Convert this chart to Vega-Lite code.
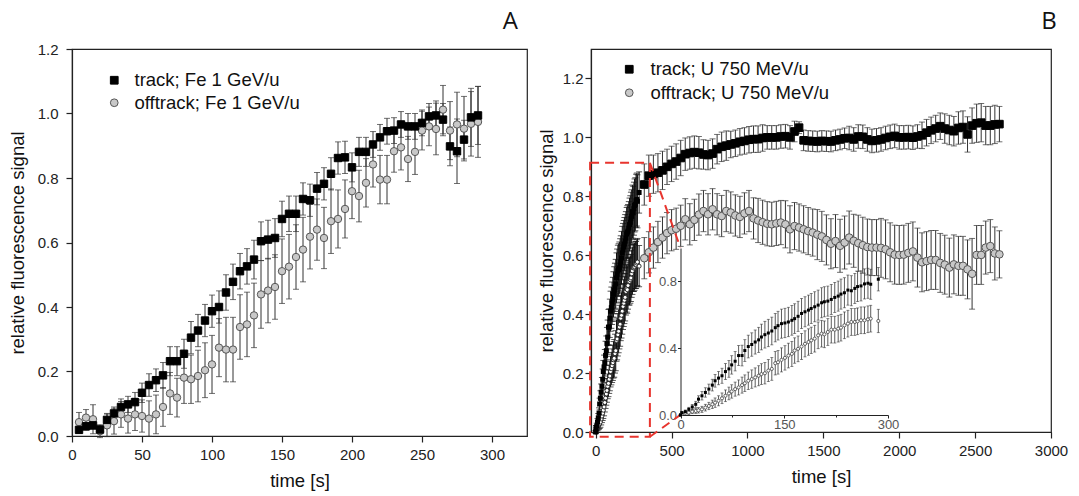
{
"$schema":"https://vega.github.io/schema/vega-lite/v6.json",
"background":"white",
"padding":{"left":7,"top":9,"right":0,"bottom":0},
"bounds":"flush",
"spacing":64,
"datasets":{
"A":[
{"s":"track","t":5,"v":0.019,"e":0.01},{"s":"track","t":10,"v":0.03,"e":0.012},{"s":"track","t":15,"v":0.033,"e":0.012},{"s":"track","t":20,"v":0.02,"e":0.012},{"s":"track","t":25,"v":0.05,"e":0.02},{"s":"track","t":30,"v":0.07,"e":0.02},{"s":"track","t":35,"v":0.09,"e":0.025},{"s":"track","t":40,"v":0.098,"e":0.025},{"s":"track","t":45,"v":0.105,"e":0.03},{"s":"track","t":50,"v":0.134,"e":0.03},{"s":"track","t":55,"v":0.158,"e":0.035},{"s":"track","t":60,"v":0.173,"e":0.035},{"s":"track","t":65,"v":0.188,"e":0.04},{"s":"track","t":70,"v":0.232,"e":0.045},{"s":"track","t":75,"v":0.232,"e":0.045},{"s":"track","t":80,"v":0.255,"e":0.045},{"s":"track","t":85,"v":0.305,"e":0.05},{"s":"track","t":90,"v":0.327,"e":0.05},{"s":"track","t":95,"v":0.358,"e":0.05},{"s":"track","t":100,"v":0.387,"e":0.05},{"s":"track","t":105,"v":0.4,"e":0.05},{"s":"track","t":110,"v":0.445,"e":0.055},{"s":"track","t":115,"v":0.478,"e":0.055},{"s":"track","t":120,"v":0.511,"e":0.055},{"s":"track","t":125,"v":0.526,"e":0.055},{"s":"track","t":130,"v":0.547,"e":0.06},{"s":"track","t":135,"v":0.604,"e":0.06},{"s":"track","t":140,"v":0.609,"e":0.06},{"s":"track","t":145,"v":0.614,"e":0.06},{"s":"track","t":150,"v":0.673,"e":0.055},{"s":"track","t":155,"v":0.689,"e":0.055},{"s":"track","t":160,"v":0.689,"e":0.055},{"s":"track","t":165,"v":0.735,"e":0.05},{"s":"track","t":170,"v":0.731,"e":0.05},{"s":"track","t":175,"v":0.767,"e":0.05},{"s":"track","t":180,"v":0.782,"e":0.05},{"s":"track","t":185,"v":0.813,"e":0.05},{"s":"track","t":190,"v":0.862,"e":0.05},{"s":"track","t":195,"v":0.864,"e":0.05},{"s":"track","t":200,"v":0.833,"e":0.045},{"s":"track","t":205,"v":0.881,"e":0.045},{"s":"track","t":210,"v":0.881,"e":0.045},{"s":"track","t":215,"v":0.904,"e":0.04},{"s":"track","t":220,"v":0.926,"e":0.04},{"s":"track","t":225,"v":0.945,"e":0.04},{"s":"track","t":230,"v":0.947,"e":0.04},{"s":"track","t":235,"v":0.966,"e":0.04},{"s":"track","t":240,"v":0.96,"e":0.04},{"s":"track","t":245,"v":0.96,"e":0.04},{"s":"track","t":250,"v":0.971,"e":0.04},{"s":"track","t":255,"v":0.991,"e":0.04},{"s":"track","t":260,"v":0.994,"e":0.045},{"s":"track","t":265,"v":0.981,"e":0.05},{"s":"track","t":270,"v":0.898,"e":0.06},{"s":"track","t":275,"v":0.883,"e":0.1},{"s":"track","t":280,"v":0.919,"e":0.06},{"s":"track","t":285,"v":0.988,"e":0.09},{"s":"track","t":290,"v":0.994,"e":0.09},
{"s":"offtrack","t":5,"v":0.043,"e":0.03},{"s":"offtrack","t":10,"v":0.057,"e":0.025},{"s":"offtrack","t":15,"v":0.052,"e":0.045},{"s":"offtrack","t":20,"v":0.015,"e":0.02},{"s":"offtrack","t":25,"v":0.033,"e":0.035},{"s":"offtrack","t":30,"v":0.046,"e":0.04},{"s":"offtrack","t":35,"v":0.067,"e":0.04},{"s":"offtrack","t":40,"v":0.054,"e":0.045},{"s":"offtrack","t":45,"v":0.067,"e":0.05},{"s":"offtrack","t":50,"v":0.062,"e":0.05},{"s":"offtrack","t":55,"v":0.054,"e":0.055},{"s":"offtrack","t":60,"v":0.067,"e":0.06},{"s":"offtrack","t":65,"v":0.09,"e":0.06},{"s":"offtrack","t":70,"v":0.132,"e":0.065},{"s":"offtrack","t":75,"v":0.119,"e":0.06},{"s":"offtrack","t":80,"v":0.181,"e":0.08},{"s":"offtrack","t":85,"v":0.176,"e":0.075},{"s":"offtrack","t":90,"v":0.186,"e":0.08},{"s":"offtrack","t":95,"v":0.204,"e":0.085},{"s":"offtrack","t":100,"v":0.222,"e":0.09},{"s":"offtrack","t":105,"v":0.274,"e":0.09},{"s":"offtrack","t":110,"v":0.268,"e":0.1},{"s":"offtrack","t":115,"v":0.268,"e":0.1},{"s":"offtrack","t":120,"v":0.338,"e":0.1},{"s":"offtrack","t":125,"v":0.346,"e":0.1},{"s":"offtrack","t":130,"v":0.374,"e":0.1},{"s":"offtrack","t":135,"v":0.439,"e":0.105},{"s":"offtrack","t":140,"v":0.451,"e":0.1},{"s":"offtrack","t":145,"v":0.462,"e":0.1},{"s":"offtrack","t":150,"v":0.511,"e":0.1},{"s":"offtrack","t":155,"v":0.525,"e":0.1},{"s":"offtrack","t":160,"v":0.555,"e":0.1},{"s":"offtrack","t":165,"v":0.578,"e":0.1},{"s":"offtrack","t":170,"v":0.618,"e":0.1},{"s":"offtrack","t":175,"v":0.64,"e":0.095},{"s":"offtrack","t":180,"v":0.614,"e":0.095},{"s":"offtrack","t":185,"v":0.666,"e":0.1},{"s":"offtrack","t":190,"v":0.673,"e":0.09},{"s":"offtrack","t":195,"v":0.704,"e":0.09},{"s":"offtrack","t":200,"v":0.759,"e":0.085},{"s":"offtrack","t":205,"v":0.744,"e":0.08},{"s":"offtrack","t":210,"v":0.785,"e":0.075},{"s":"offtrack","t":215,"v":0.842,"e":0.07},{"s":"offtrack","t":220,"v":0.795,"e":0.075},{"s":"offtrack","t":225,"v":0.795,"e":0.075},{"s":"offtrack","t":230,"v":0.883,"e":0.065},{"s":"offtrack","t":235,"v":0.895,"e":0.07},{"s":"offtrack","t":240,"v":0.859,"e":0.07},{"s":"offtrack","t":245,"v":0.881,"e":0.07},{"s":"offtrack","t":250,"v":0.947,"e":0.06},{"s":"offtrack","t":255,"v":0.96,"e":0.06},{"s":"offtrack","t":260,"v":0.952,"e":0.08},{"s":"offtrack","t":265,"v":1.012,"e":0.075},{"s":"offtrack","t":270,"v":0.947,"e":0.09},{"s":"offtrack","t":275,"v":0.966,"e":0.1},{"s":"offtrack","t":280,"v":0.953,"e":0.1},{"s":"offtrack","t":285,"v":0.968,"e":0.1},{"s":"offtrack","t":290,"v":0.974,"e":0.11}
],
"B":[
{"s":"track","t":0,"v":0.0,"e":0.005},{"s":"track","t":2,"v":0.014,"e":0.008},{"s":"track","t":7,"v":0.02,"e":0.01},{"s":"track","t":12,"v":0.034,"e":0.012},{"s":"track","t":17,"v":0.048,"e":0.015},{"s":"track","t":22,"v":0.064,"e":0.018},{"s":"track","t":26,"v":0.095,"e":0.02},{"s":"track","t":31,"v":0.115,"e":0.025},{"s":"track","t":36,"v":0.135,"e":0.028},{"s":"track","t":41,"v":0.155,"e":0.03},{"s":"track","t":46,"v":0.179,"e":0.035},{"s":"track","t":50,"v":0.205,"e":0.038},{"s":"track","t":55,"v":0.221,"e":0.04},{"s":"track","t":60,"v":0.235,"e":0.045},{"s":"track","t":65,"v":0.26,"e":0.048},{"s":"track","t":70,"v":0.276,"e":0.05},{"s":"track","t":74,"v":0.3,"e":0.055},{"s":"track","t":79,"v":0.322,"e":0.058},{"s":"track","t":84,"v":0.356,"e":0.06},{"s":"track","t":89,"v":0.356,"e":0.062},{"s":"track","t":93,"v":0.386,"e":0.065},{"s":"track","t":98,"v":0.41,"e":0.068},{"s":"track","t":103,"v":0.422,"e":0.07},{"s":"track","t":108,"v":0.437,"e":0.072},{"s":"track","t":113,"v":0.45,"e":0.075},{"s":"track","t":117,"v":0.467,"e":0.077},{"s":"track","t":122,"v":0.481,"e":0.08},{"s":"track","t":127,"v":0.491,"e":0.082},{"s":"track","t":132,"v":0.503,"e":0.083},{"s":"track","t":137,"v":0.523,"e":0.085},{"s":"track","t":141,"v":0.535,"e":0.086},{"s":"track","t":146,"v":0.547,"e":0.087},{"s":"track","t":151,"v":0.551,"e":0.088},{"s":"track","t":156,"v":0.557,"e":0.088},{"s":"track","t":161,"v":0.567,"e":0.089},{"s":"track","t":165,"v":0.577,"e":0.089},{"s":"track","t":170,"v":0.591,"e":0.09},{"s":"track","t":175,"v":0.608,"e":0.09},{"s":"track","t":180,"v":0.618,"e":0.09},{"s":"track","t":185,"v":0.628,"e":0.09},{"s":"track","t":189,"v":0.638,"e":0.09},{"s":"track","t":194,"v":0.648,"e":0.09},{"s":"track","t":199,"v":0.658,"e":0.09},{"s":"track","t":204,"v":0.672,"e":0.09},{"s":"track","t":208,"v":0.678,"e":0.09},{"s":"track","t":213,"v":0.682,"e":0.09},{"s":"track","t":218,"v":0.692,"e":0.09},{"s":"track","t":223,"v":0.704,"e":0.09},{"s":"track","t":228,"v":0.712,"e":0.09},{"s":"track","t":232,"v":0.724,"e":0.09},{"s":"track","t":237,"v":0.732,"e":0.09},{"s":"track","t":242,"v":0.748,"e":0.09},{"s":"track","t":247,"v":0.744,"e":0.09},{"s":"track","t":252,"v":0.758,"e":0.09},{"s":"track","t":256,"v":0.769,"e":0.09},{"s":"track","t":261,"v":0.773,"e":0.09},{"s":"track","t":266,"v":0.785,"e":0.09},{"s":"track","t":271,"v":0.789,"e":0.09},{"s":"track","t":275,"v":0.783,"e":0.09},{"s":"track","t":286,"v":0.813,"e":0.07},
{"s":"track","t":320,"v":0.84,"e":0.07},{"s":"track","t":350,"v":0.87,"e":0.07},{"s":"track","t":380,"v":0.875,"e":0.065},{"s":"track","t":410,"v":0.88,"e":0.065},{"s":"track","t":440,"v":0.888,"e":0.065},{"s":"track","t":470,"v":0.9,"e":0.06},{"s":"track","t":500,"v":0.91,"e":0.06},{"s":"track","t":530,"v":0.918,"e":0.06},{"s":"track","t":560,"v":0.93,"e":0.06},{"s":"track","t":590,"v":0.943,"e":0.055},{"s":"track","t":620,"v":0.947,"e":0.055},{"s":"track","t":650,"v":0.95,"e":0.055},{"s":"track","t":680,"v":0.948,"e":0.055},{"s":"track","t":710,"v":0.942,"e":0.05},{"s":"track","t":740,"v":0.94,"e":0.05},{"s":"track","t":770,"v":0.945,"e":0.05},{"s":"track","t":800,"v":0.96,"e":0.05},{"s":"track","t":830,"v":0.968,"e":0.05},{"s":"track","t":860,"v":0.972,"e":0.05},{"s":"track","t":890,"v":0.976,"e":0.045},{"s":"track","t":920,"v":0.98,"e":0.045},{"s":"track","t":950,"v":0.985,"e":0.045},{"s":"track","t":980,"v":0.988,"e":0.045},{"s":"track","t":1010,"v":0.992,"e":0.045},{"s":"track","t":1040,"v":0.994,"e":0.045},{"s":"track","t":1070,"v":0.994,"e":0.045},{"s":"track","t":1100,"v":0.998,"e":0.045},{"s":"track","t":1130,"v":1.0,"e":0.04},{"s":"track","t":1160,"v":1.0,"e":0.04},{"s":"track","t":1190,"v":1.0,"e":0.04},{"s":"track","t":1220,"v":1.003,"e":0.04},{"s":"track","t":1250,"v":1.004,"e":0.04},{"s":"track","t":1280,"v":1.0,"e":0.04},{"s":"track","t":1310,"v":1.02,"e":0.035},{"s":"track","t":1340,"v":1.033,"e":0.02},{"s":"track","t":1370,"v":0.99,"e":0.035},{"s":"track","t":1400,"v":0.988,"e":0.035},{"s":"track","t":1430,"v":0.987,"e":0.035},{"s":"track","t":1460,"v":0.986,"e":0.035},{"s":"track","t":1490,"v":0.988,"e":0.035},{"s":"track","t":1520,"v":0.987,"e":0.035},{"s":"track","t":1550,"v":0.986,"e":0.035},{"s":"track","t":1580,"v":0.99,"e":0.035},{"s":"track","t":1610,"v":0.993,"e":0.035},{"s":"track","t":1640,"v":0.997,"e":0.035},{"s":"track","t":1670,"v":0.998,"e":0.04},{"s":"track","t":1700,"v":0.993,"e":0.04},{"s":"track","t":1730,"v":1.003,"e":0.04},{"s":"track","t":1760,"v":1.002,"e":0.04},{"s":"track","t":1790,"v":0.993,"e":0.04},{"s":"track","t":1820,"v":0.988,"e":0.04},{"s":"track","t":1850,"v":0.99,"e":0.04},{"s":"track","t":1880,"v":0.993,"e":0.04},{"s":"track","t":1910,"v":0.998,"e":0.04},{"s":"track","t":1940,"v":1.002,"e":0.04},{"s":"track","t":1970,"v":1.005,"e":0.04},{"s":"track","t":2000,"v":1.0,"e":0.04},{"s":"track","t":2030,"v":1.0,"e":0.04},{"s":"track","t":2060,"v":1.001,"e":0.04},{"s":"track","t":2090,"v":0.999,"e":0.04},{"s":"track","t":2120,"v":1.003,"e":0.04},{"s":"track","t":2150,"v":1.007,"e":0.045},{"s":"track","t":2180,"v":1.016,"e":0.045},{"s":"track","t":2210,"v":1.024,"e":0.045},{"s":"track","t":2240,"v":1.03,"e":0.045},{"s":"track","t":2270,"v":1.038,"e":0.045},{"s":"track","t":2300,"v":1.03,"e":0.05},{"s":"track","t":2330,"v":1.025,"e":0.05},{"s":"track","t":2360,"v":1.021,"e":0.05},{"s":"track","t":2390,"v":1.032,"e":0.055},{"s":"track","t":2420,"v":1.035,"e":0.055},{"s":"track","t":2450,"v":1.01,"e":0.06},{"s":"track","t":2480,"v":1.04,"e":0.06},{"s":"track","t":2510,"v":1.048,"e":0.065},{"s":"track","t":2540,"v":1.05,"e":0.065},{"s":"track","t":2570,"v":1.04,"e":0.065},{"s":"track","t":2600,"v":1.04,"e":0.065},{"s":"track","t":2630,"v":1.044,"e":0.065},{"s":"track","t":2660,"v":1.045,"e":0.06},
{"s":"offtrack","t":0,"v":0.0,"e":0.005},{"s":"offtrack","t":2,"v":0.008,"e":0.006},{"s":"offtrack","t":7,"v":0.014,"e":0.008},{"s":"offtrack","t":12,"v":0.014,"e":0.01},{"s":"offtrack","t":17,"v":0.02,"e":0.012},{"s":"offtrack","t":22,"v":0.024,"e":0.014},{"s":"offtrack","t":26,"v":0.028,"e":0.016},{"s":"offtrack","t":31,"v":0.034,"e":0.018},{"s":"offtrack","t":36,"v":0.044,"e":0.02},{"s":"offtrack","t":41,"v":0.054,"e":0.022},{"s":"offtrack","t":46,"v":0.064,"e":0.025},{"s":"offtrack","t":50,"v":0.074,"e":0.028},{"s":"offtrack","t":55,"v":0.085,"e":0.03},{"s":"offtrack","t":60,"v":0.1,"e":0.032},{"s":"offtrack","t":65,"v":0.115,"e":0.035},{"s":"offtrack","t":70,"v":0.129,"e":0.038},{"s":"offtrack","t":74,"v":0.141,"e":0.04},{"s":"offtrack","t":79,"v":0.155,"e":0.042},{"s":"offtrack","t":84,"v":0.165,"e":0.045},{"s":"offtrack","t":89,"v":0.179,"e":0.048},{"s":"offtrack","t":93,"v":0.19,"e":0.05},{"s":"offtrack","t":98,"v":0.205,"e":0.052},{"s":"offtrack","t":103,"v":0.215,"e":0.055},{"s":"offtrack","t":108,"v":0.225,"e":0.057},{"s":"offtrack","t":113,"v":0.235,"e":0.06},{"s":"offtrack","t":117,"v":0.245,"e":0.062},{"s":"offtrack","t":122,"v":0.25,"e":0.064},{"s":"offtrack","t":127,"v":0.266,"e":0.066},{"s":"offtrack","t":132,"v":0.276,"e":0.068},{"s":"offtrack","t":137,"v":0.31,"e":0.07},{"s":"offtrack","t":141,"v":0.316,"e":0.071},{"s":"offtrack","t":146,"v":0.33,"e":0.072},{"s":"offtrack","t":151,"v":0.342,"e":0.073},{"s":"offtrack","t":156,"v":0.356,"e":0.074},{"s":"offtrack","t":161,"v":0.366,"e":0.075},{"s":"offtrack","t":165,"v":0.386,"e":0.076},{"s":"offtrack","t":170,"v":0.396,"e":0.077},{"s":"offtrack","t":175,"v":0.41,"e":0.078},{"s":"offtrack","t":180,"v":0.426,"e":0.078},{"s":"offtrack","t":185,"v":0.437,"e":0.079},{"s":"offtrack","t":189,"v":0.447,"e":0.079},{"s":"offtrack","t":194,"v":0.457,"e":0.08},{"s":"offtrack","t":199,"v":0.477,"e":0.08},{"s":"offtrack","t":204,"v":0.487,"e":0.08},{"s":"offtrack","t":208,"v":0.483,"e":0.08},{"s":"offtrack","t":213,"v":0.497,"e":0.08},{"s":"offtrack","t":218,"v":0.511,"e":0.08},{"s":"offtrack","t":223,"v":0.511,"e":0.08},{"s":"offtrack","t":228,"v":0.517,"e":0.08},{"s":"offtrack","t":232,"v":0.523,"e":0.08},{"s":"offtrack","t":237,"v":0.537,"e":0.08},{"s":"offtrack","t":242,"v":0.547,"e":0.08},{"s":"offtrack","t":247,"v":0.557,"e":0.08},{"s":"offtrack","t":252,"v":0.557,"e":0.08},{"s":"offtrack","t":256,"v":0.561,"e":0.08},{"s":"offtrack","t":261,"v":0.567,"e":0.08},{"s":"offtrack","t":266,"v":0.567,"e":0.08},{"s":"offtrack","t":271,"v":0.573,"e":0.08},{"s":"offtrack","t":275,"v":0.577,"e":0.08},{"s":"offtrack","t":286,"v":0.563,"e":0.07},
{"s":"offtrack","t":320,"v":0.59,"e":0.07},{"s":"offtrack","t":350,"v":0.61,"e":0.07},{"s":"offtrack","t":380,"v":0.626,"e":0.07},{"s":"offtrack","t":410,"v":0.645,"e":0.07},{"s":"offtrack","t":440,"v":0.66,"e":0.07},{"s":"offtrack","t":470,"v":0.675,"e":0.07},{"s":"offtrack","t":500,"v":0.685,"e":0.07},{"s":"offtrack","t":530,"v":0.69,"e":0.07},{"s":"offtrack","t":560,"v":0.7,"e":0.07},{"s":"offtrack","t":590,"v":0.722,"e":0.07},{"s":"offtrack","t":620,"v":0.705,"e":0.07},{"s":"offtrack","t":650,"v":0.72,"e":0.07},{"s":"offtrack","t":680,"v":0.738,"e":0.07},{"s":"offtrack","t":710,"v":0.75,"e":0.07},{"s":"offtrack","t":740,"v":0.739,"e":0.07},{"s":"offtrack","t":770,"v":0.756,"e":0.07},{"s":"offtrack","t":800,"v":0.739,"e":0.07},{"s":"offtrack","t":830,"v":0.733,"e":0.07},{"s":"offtrack","t":860,"v":0.75,"e":0.07},{"s":"offtrack","t":890,"v":0.745,"e":0.07},{"s":"offtrack","t":920,"v":0.735,"e":0.07},{"s":"offtrack","t":950,"v":0.73,"e":0.07},{"s":"offtrack","t":980,"v":0.742,"e":0.07},{"s":"offtrack","t":1010,"v":0.75,"e":0.07},{"s":"offtrack","t":1040,"v":0.725,"e":0.07},{"s":"offtrack","t":1070,"v":0.718,"e":0.075},{"s":"offtrack","t":1100,"v":0.712,"e":0.075},{"s":"offtrack","t":1130,"v":0.707,"e":0.075},{"s":"offtrack","t":1160,"v":0.705,"e":0.075},{"s":"offtrack","t":1190,"v":0.708,"e":0.075},{"s":"offtrack","t":1220,"v":0.711,"e":0.075},{"s":"offtrack","t":1250,"v":0.705,"e":0.08},{"s":"offtrack","t":1280,"v":0.688,"e":0.08},{"s":"offtrack","t":1310,"v":0.699,"e":0.08},{"s":"offtrack","t":1340,"v":0.694,"e":0.08},{"s":"offtrack","t":1370,"v":0.688,"e":0.08},{"s":"offtrack","t":1400,"v":0.682,"e":0.08},{"s":"offtrack","t":1430,"v":0.677,"e":0.08},{"s":"offtrack","t":1460,"v":0.67,"e":0.085},{"s":"offtrack","t":1490,"v":0.664,"e":0.085},{"s":"offtrack","t":1520,"v":0.652,"e":0.085},{"s":"offtrack","t":1550,"v":0.639,"e":0.085},{"s":"offtrack","t":1580,"v":0.648,"e":0.09},{"s":"offtrack","t":1610,"v":0.632,"e":0.09},{"s":"offtrack","t":1640,"v":0.643,"e":0.09},{"s":"offtrack","t":1670,"v":0.66,"e":0.09},{"s":"offtrack","t":1700,"v":0.649,"e":0.09},{"s":"offtrack","t":1730,"v":0.641,"e":0.095},{"s":"offtrack","t":1760,"v":0.634,"e":0.095},{"s":"offtrack","t":1790,"v":0.628,"e":0.095},{"s":"offtrack","t":1820,"v":0.626,"e":0.095},{"s":"offtrack","t":1850,"v":0.626,"e":0.095},{"s":"offtrack","t":1880,"v":0.625,"e":0.1},{"s":"offtrack","t":1910,"v":0.62,"e":0.1},{"s":"offtrack","t":1940,"v":0.61,"e":0.1},{"s":"offtrack","t":1970,"v":0.602,"e":0.1},{"s":"offtrack","t":2000,"v":0.601,"e":0.1},{"s":"offtrack","t":2030,"v":0.602,"e":0.1},{"s":"offtrack","t":2060,"v":0.608,"e":0.1},{"s":"offtrack","t":2090,"v":0.613,"e":0.1},{"s":"offtrack","t":2120,"v":0.592,"e":0.1},{"s":"offtrack","t":2150,"v":0.576,"e":0.1},{"s":"offtrack","t":2180,"v":0.58,"e":0.1},{"s":"offtrack","t":2210,"v":0.584,"e":0.1},{"s":"offtrack","t":2240,"v":0.584,"e":0.1},{"s":"offtrack","t":2270,"v":0.574,"e":0.1},{"s":"offtrack","t":2300,"v":0.568,"e":0.1},{"s":"offtrack","t":2330,"v":0.558,"e":0.1},{"s":"offtrack","t":2360,"v":0.569,"e":0.1},{"s":"offtrack","t":2390,"v":0.564,"e":0.1},{"s":"offtrack","t":2420,"v":0.564,"e":0.1},{"s":"offtrack","t":2450,"v":0.552,"e":0.1},{"s":"offtrack","t":2480,"v":0.537,"e":0.12},{"s":"offtrack","t":2510,"v":0.601,"e":0.1},{"s":"offtrack","t":2540,"v":0.601,"e":0.1},{"s":"offtrack","t":2570,"v":0.626,"e":0.09},{"s":"offtrack","t":2600,"v":0.631,"e":0.09},{"s":"offtrack","t":2630,"v":0.606,"e":0.09},{"s":"offtrack","t":2660,"v":0.603,"e":0.08}
],
"box":[{"t":-37,"t2":357,"v":-0.016,"v2":0.914}],
"links":[{"t":357,"v":0.914,"t2":558,"v2":0.626},{"t":357,"v":-0.016,"t2":558,"v2":0.058}]
},
"hconcat":[
{
"width":455,"height":387,
"title":{"text":"A","anchor":"end","dx":-9,"offset":-11,"baseline":"alphabetic","fontSize":24,"font":"Open Sans","fontWeight":"normal","color":"#111"},
"data":{"name":"A"},
"layer":[
{"mark":{"type":"errorbar","ticks":true,"size":6,"thickness":1,"color":"#333"},
"encoding":{
"x":{"field":"t","type":"quantitative","scale":{"domain":[0,325],"nice":false,"zero":false},"title":"time [s]"},
"y":{"field":"v","type":"quantitative","scale":{"domain":[0,1.2],"nice":false},"title":"relative fluorescence signal"},
"yError":{"field":"e"}}},
{"transform":[{"filter":"datum.s == 'offtrack'"}],
"mark":{"type":"point","filled":true,"size":55,"strokeWidth":1,"opacity":1},
"encoding":{
"x":{"field":"t","type":"quantitative","scale":{"domain":[0,325],"nice":false,"zero":false},"title":"time [s]",
"axis":{"values":[0,25,50,75,100,125,150,175,200,225,250,275,300,325],"labelExpr":"datum.value % 50 == 0 ? datum.label : ''","tickSize":{"condition":{"test":"datum.value % 50 == 0","value":6},"value":3},"labelPadding":5,"titlePadding":9,"labelOverlap":false,"labelFlush":false}},
"y":{"field":"v","type":"quantitative","scale":{"domain":[0,1.2],"nice":false},"title":"relative fluorescence signal",
"axis":{"values":[0,0.1,0.2,0.3,0.4,0.5,0.6,0.7,0.8,0.9,1.0,1.1,1.2],"format":".1f","labelExpr":"round(datum.value*10) % 2 == 0 ? datum.label : ''","tickSize":{"condition":{"test":"round(datum.value*10) % 2 == 0","value":6},"value":3},"labelPadding":8,"titlePadding":10,"labelOverlap":false}},
"shape":{"field":"s","type":"nominal","scale":{"domain":["track","offtrack"],"range":["square","circle"]},"legend":{"title":null,"orient":"none","legendX":33,"legendY":22,"labelFontSize":18.5,"labelFont":"Liberation Sans","labelColor":"#111","labelLimit":0,"symbolSize":60,"symbolStrokeWidth":1,"labelOffset":11,"rowPadding":3.5,"padding":0,"labelExpr":"datum.label == 'track' ? 'track; Fe 1 GeV/u' : 'offtrack; Fe 1 GeV/u'"}},
"fill":{"field":"s","type":"nominal","scale":{"domain":["track","offtrack"],"range":["#000000","#c8c8c8"]},"legend":{"title":null,"orient":"none","legendX":33,"legendY":22,"labelFontSize":18.5,"labelFont":"Liberation Sans","labelColor":"#111","labelLimit":0,"symbolSize":60,"symbolStrokeWidth":1,"labelOffset":11,"rowPadding":3.5,"padding":0,"labelExpr":"datum.label == 'track' ? 'track; Fe 1 GeV/u' : 'offtrack; Fe 1 GeV/u'"}},
"stroke":{"field":"s","type":"nominal","scale":{"domain":["track","offtrack"],"range":["#000000","#555555"]},"legend":{"title":null,"orient":"none","legendX":33,"legendY":22,"labelFontSize":18.5,"labelFont":"Liberation Sans","labelColor":"#111","labelLimit":0,"symbolSize":60,"symbolStrokeWidth":1,"labelOffset":11,"rowPadding":3.5,"padding":0,"labelExpr":"datum.label == 'track' ? 'track; Fe 1 GeV/u' : 'offtrack; Fe 1 GeV/u'"}}}},
{"transform":[{"filter":"datum.s == 'track'"}],
"mark":{"type":"point","filled":true,"size":55,"strokeWidth":1,"opacity":1},
"encoding":{
"x":{"field":"t","type":"quantitative","scale":{"domain":[0,325],"nice":false,"zero":false},"title":"time [s]"},
"y":{"field":"v","type":"quantitative","scale":{"domain":[0,1.2],"nice":false},"title":"relative fluorescence signal"},
"shape":{"field":"s","type":"nominal","scale":{"domain":["track","offtrack"],"range":["square","circle"]}},
"fill":{"field":"s","type":"nominal","scale":{"domain":["track","offtrack"],"range":["#000000","#c8c8c8"]}},
"stroke":{"field":"s","type":"nominal","scale":{"domain":["track","offtrack"],"range":["#000000","#555555"]}}}}
]
},
{
"width":460,"height":383,
"title":{"text":"B","anchor":"end","dx":-11,"offset":-4,"baseline":"alphabetic","fontSize":24,"font":"Open Sans","fontWeight":"normal","color":"#111"},
"layer":[
{"layer":[
{"data":{"name":"B"},"transform":[{"filter":"datum.t < 300"}],
"mark":{"type":"errorbar","ticks":true,"size":6,"thickness":1,"color":"#111"},
"encoding":{
"x":{"field":"t","type":"quantitative","scale":{"domain":[-31,3000],"nice":false,"zero":false},"title":"time [s]",
"axis":{"values":[0,250,500,750,1000,1250,1500,1750,2000,2250,2500,2750,3000],"format":"d","labelExpr":"datum.value % 500 == 0 ? datum.label : ''","tickSize":{"condition":{"test":"datum.value % 500 == 0","value":6},"value":3},"labelPadding":5,"titlePadding":9,"labelOverlap":false,"labelFlush":false}},
"y":{"field":"v","type":"quantitative","scale":{"domain":[0,1.3],"nice":false},"title":"relative fluorescence signal",
"axis":{"values":[0,0.1,0.2,0.3,0.4,0.5,0.6,0.7,0.8,0.9,1.0,1.1,1.2,1.3],"format":".1f","labelExpr":"round(datum.value*10) % 2 == 0 ? datum.label : ''","tickSize":{"condition":{"test":"round(datum.value*10) % 2 == 0","value":6},"value":3},"labelPadding":2,"titlePadding":6,"labelOverlap":false}},
"yError":{"field":"e"}}},
{"data":{"name":"B"},"transform":[{"filter":"datum.t >= 300"}],
"mark":{"type":"errorbar","ticks":true,"size":6,"thickness":1,"color":"#333"},
"encoding":{
"x":{"field":"t","type":"quantitative","scale":{"domain":[-31,3000],"nice":false,"zero":false},"title":"time [s]"},
"y":{"field":"v","type":"quantitative","scale":{"domain":[0,1.3],"nice":false},"title":"relative fluorescence signal"},
"yError":{"field":"e"}}},
{"data":{"name":"B"},"transform":[{"filter":"datum.t < 300 && datum.s == 'offtrack'"}],
"mark":{"type":"point","shape":"circle","filled":false,"fill":"white","stroke":"#222","strokeWidth":0.9,"size":16,"opacity":1},
"encoding":{
"x":{"field":"t","type":"quantitative","scale":{"domain":[-31,3000],"nice":false,"zero":false},"title":"time [s]"},
"y":{"field":"v","type":"quantitative","scale":{"domain":[0,1.3],"nice":false},"title":"relative fluorescence signal"}}},
{"data":{"name":"B"},"transform":[{"filter":"datum.t < 300 && datum.s == 'track'"}],
"mark":{"type":"point","shape":"square","filled":true,"color":"#000","size":25,"opacity":1},
"encoding":{
"x":{"field":"t","type":"quantitative","scale":{"domain":[-31,3000],"nice":false,"zero":false},"title":"time [s]"},
"y":{"field":"v","type":"quantitative","scale":{"domain":[0,1.3],"nice":false},"title":"relative fluorescence signal"}}},
{"data":{"name":"B"},"transform":[{"filter":"datum.t >= 300"}],
"mark":{"type":"point","filled":true,"size":58,"strokeWidth":1,"opacity":1},
"encoding":{
"x":{"field":"t","type":"quantitative","scale":{"domain":[-31,3000],"nice":false,"zero":false},"title":"time [s]"},
"y":{"field":"v","type":"quantitative","scale":{"domain":[0,1.3],"nice":false},"title":"relative fluorescence signal"},
"shape":{"field":"s","type":"nominal","scale":{"domain":["track","offtrack"],"range":["square","circle"]},"legend":{"title":null,"orient":"none","legendX":29,"legendY":11,"labelFontSize":18.5,"labelFont":"Liberation Sans","labelColor":"#111","labelLimit":0,"symbolSize":60,"symbolStrokeWidth":1,"labelOffset":12,"rowPadding":4.5,"padding":0,"labelExpr":"datum.label == 'track' ? 'track; U 750 MeV/u' : 'offtrack; U 750 MeV/u'"}},
"fill":{"field":"s","type":"nominal","scale":{"domain":["track","offtrack"],"range":["#000000","#c8c8c8"]},"legend":{"title":null,"orient":"none","legendX":29,"legendY":11,"labelFontSize":18.5,"labelFont":"Liberation Sans","labelColor":"#111","labelLimit":0,"symbolSize":60,"symbolStrokeWidth":1,"labelOffset":12,"rowPadding":4.5,"padding":0,"labelExpr":"datum.label == 'track' ? 'track; U 750 MeV/u' : 'offtrack; U 750 MeV/u'"}},
"stroke":{"field":"s","type":"nominal","scale":{"domain":["track","offtrack"],"range":["#000000","#555555"]},"legend":{"title":null,"orient":"none","legendX":29,"legendY":11,"labelFontSize":18.5,"labelFont":"Liberation Sans","labelColor":"#111","labelLimit":0,"symbolSize":60,"symbolStrokeWidth":1,"labelOffset":12,"rowPadding":4.5,"padding":0,"labelExpr":"datum.label == 'track' ? 'track; U 750 MeV/u' : 'offtrack; U 750 MeV/u'"}}}},
{"data":{"name":"box"},
"mark":{"type":"rect","fill":"white","fillOpacity":0,"stroke":"#e8352e","strokeWidth":2,"strokeDash":[9,6]},
"encoding":{
"x":{"field":"t","type":"quantitative","scale":{"domain":[-31,3000],"nice":false,"zero":false},"title":"time [s]"},
"x2":{"field":"t2"},
"y":{"field":"v","type":"quantitative","scale":{"domain":[0,1.3],"nice":false},"title":"relative fluorescence signal"},
"y2":{"field":"v2"}}},
{"data":{"name":"links"},
"mark":{"type":"rule","stroke":"#e8352e","strokeWidth":2,"strokeDash":[9,6]},
"encoding":{
"x":{"field":"t","type":"quantitative","scale":{"domain":[-31,3000],"nice":false,"zero":false},"title":"time [s]"},
"x2":{"field":"t2"},
"y":{"field":"v","type":"quantitative","scale":{"domain":[0,1.3],"nice":false},"title":"relative fluorescence signal"},
"y2":{"field":"v2"}}}
]},
{"data":{"name":"B"},"transform":[{"filter":"datum.t < 300"}],
"layer":[
{"mark":{"type":"errorbar","ticks":true,"size":3,"thickness":0.8,"color":"#333"},
"encoding":{
"x":{"field":"t","type":"quantitative","scale":{"domain":[0,300],"range":[89.5,297],"nice":false,"zero":false},"title":null,
"axis":{"orient":"bottom","offset":-17,"values":[0,75,150,225,300],"format":"d","labelExpr":"datum.value % 150 == 0 ? datum.label : ''","tickSize":{"condition":{"test":"datum.value % 150 == 0","value":3},"value":2},"labelPadding":0,"labelFontSize":13,"labelColor":"#555","domainWidth":1,"tickWidth":1,"labelOverlap":false,"labelFlush":false,"title":null}},
"y":{"field":"v","type":"quantitative","scale":{"domain":[0,1],"range":[366,199],"nice":false},"title":null,
"axis":{"orient":"left","offset":-89.5,"values":[0,0.4,0.8],"format":".1f","tickSize":3,"labelPadding":1,"labelFontSize":13,"labelColor":"#555","domainWidth":1,"tickWidth":1,"labelOverlap":false,"title":null}},
"yError":{"field":"e"}}},
{"transform":[{"filter":"datum.s == 'offtrack'"}],
"mark":{"type":"point","shape":"circle","filled":false,"fill":"white","stroke":"#444","strokeWidth":0.8,"size":10,"opacity":1},
"encoding":{
"x":{"field":"t","type":"quantitative","scale":{"domain":[0,300],"range":[89.5,297],"nice":false,"zero":false},"title":null},
"y":{"field":"v","type":"quantitative","scale":{"domain":[0,1],"range":[366,199],"nice":false},"title":null}}},
{"transform":[{"filter":"datum.s == 'track'"}],
"mark":{"type":"point","shape":"square","filled":true,"color":"#000","size":9,"opacity":1},
"encoding":{
"x":{"field":"t","type":"quantitative","scale":{"domain":[0,300],"range":[89.5,297],"nice":false,"zero":false},"title":null},
"y":{"field":"v","type":"quantitative","scale":{"domain":[0,1],"range":[366,199],"nice":false},"title":null}}}
]}
],
"resolve":{"scale":{"x":"independent","y":"independent"}}
}
],
"resolve":{"scale":{"shape":"independent","fill":"independent","stroke":"independent"},"legend":{"shape":"independent","fill":"independent","stroke":"independent"}},
"config":{
"font":"Liberation Sans",
"view":{"stroke":"#222","strokeWidth":1.2},
"axis":{"grid":false,"domainColor":"#222","domainWidth":1.2,"tickColor":"#222","tickWidth":1.2,"labelColor":"#222","labelFont":"Liberation Sans","labelFontSize":15,"titleFont":"Liberation Sans","titleFontSize":18.5,"titleFontWeight":"normal","titleColor":"#111"}
}
}
